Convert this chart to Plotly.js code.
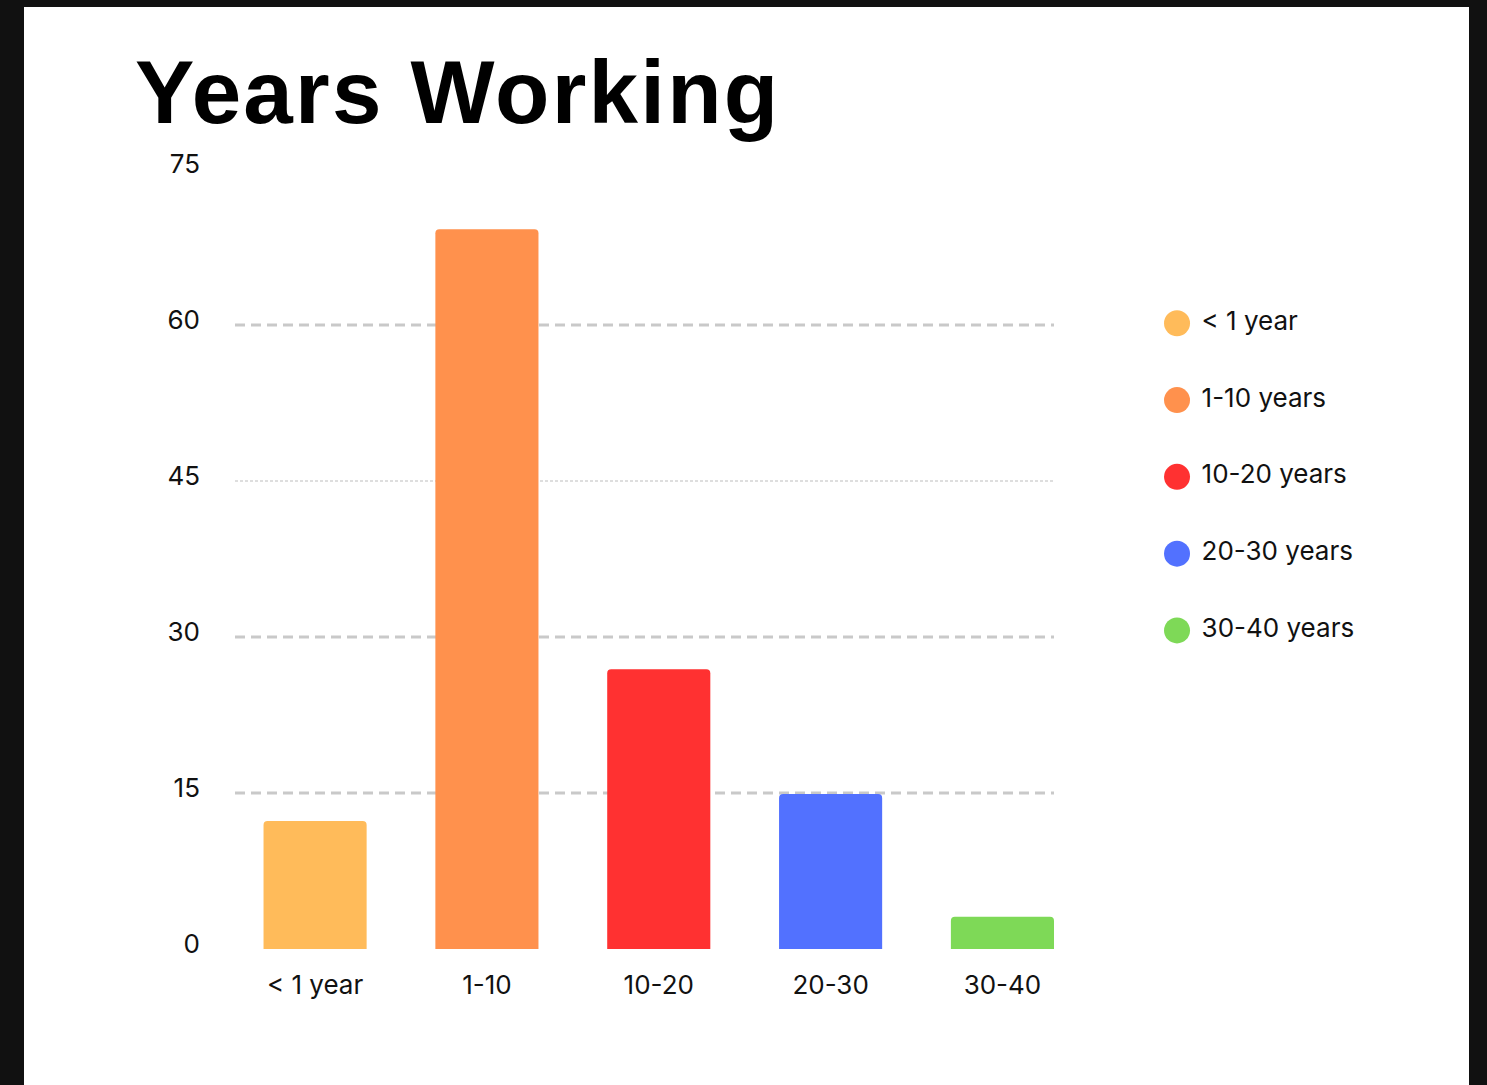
<!DOCTYPE html>
<html>
<head>
<meta charset="utf-8">
<script src="https://cdn.plot.ly/plotly-3.0.1.min.js"></script>
<style>
  html, body { margin: 0; padding: 0; background: #111111; width: 1487px; height: 1085px; overflow: hidden; }
  #chart { position: absolute; left: 24px; top: 7px; width: 1445px; height: 1078px; background: #ffffff; }
  #chart .gtitle { letter-spacing: 2.2px; }
</style>
</head>
<body>
<div id="chart"></div>
<script>
// ---- data ----
const categories = ["< 1 year", "1-10", "10-20", "20-30", "30-40"];
const values = [12.3, 69.2, 26.9, 14.9, 3.1];
const legendLabels = ["< 1 year", "1-10 years", "10-20 years", "20-30 years", "30-40 years"];
const colors = ["#FFBB5A", "#FF914D", "#FF3131", "#5271FF", "#7ED957"];
const yTicks = [0, 15, 30, 45, 60, 75];
const dashedGrid = [15, 30, 60];
const dottedGrid = [45];

const font = "Inter, 'Noto Sans', sans-serif";

const bars = {
  type: "bar",
  x: categories,
  y: values,
  marker: { color: colors, cornerradius: 4 },
  width: 0.6,
  hoverinfo: "skip",
  showlegend: false,
  xaxis: "x", yaxis: "y"
};

const legendPts = {
  type: "scatter",
  mode: "markers+text",
  x: legendLabels.map(() => 0),
  y: legendLabels,
  text: legendLabels,
  texttemplate: "\u00A0%{text}",
  textposition: "middle right",
  textfont: { family: font, size: 26, color: "#111111" },
  marker: { size: 26, color: colors },
  hoverinfo: "skip",
  showlegend: false,
  cliponaxis: false,
  xaxis: "x2", yaxis: "y2"
};

const shapes = [];
dashedGrid.forEach(v => shapes.push({
  type: "line", xref: "x domain", yref: "y", x0: 0, x1: 1, y0: v, y1: v,
  layer: "below", line: { color: "#c9c9c9", width: 3, dash: "10px,6px" }
}));
dottedGrid.forEach(v => shapes.push({
  type: "line", xref: "x domain", yref: "y", x0: 0, x1: 1, y0: v, y1: v,
  layer: "below", line: { color: "#bdbdbd", width: 1, dash: "3px,2px" }
}));

const W = 1445, H = 1078;
const layout = {
  width: W, height: H,
  paper_bgcolor: "#ffffff",
  plot_bgcolor: "rgba(0,0,0,0)",
  margin: { l: 211, r: 45, t: 162, b: 136 },
  showlegend: false,
  title: {
    text: "<b>Years Working</b>",
    font: { family: "'Liberation Sans', Arial, sans-serif", size: 89, color: "#000000" },
    xref: "container", yref: "container",
    x: 111 / W, xanchor: "left",
    y: 1 - 85 / H, yanchor: "middle"
  },
  xaxis: {
    domain: [0, 819 / 1189],
    type: "category",
    range: [-0.466, 4.30],
    showgrid: false, zeroline: false, showline: false,
    ticks: "",
    ticklabelstandoff: 18,
    tickfont: { family: font, size: 26, color: "#111111" },
    fixedrange: true
  },
  yaxis: {
    range: [0, 75],
    tickvals: yTicks,
    ticktext: yTicks.map(String),
    showgrid: false, zeroline: false, showline: false,
    ticks: "",
    ticklabelstandoff: 34,
    ticklabelshift: -5,
    tickfont: { family: font, size: 26, color: "#111111" },
    fixedrange: true
  },
  xaxis2: {
    domain: [0.76, 1],
    range: [-0.1345, 0.8655],
    visible: false, fixedrange: true
  },
  yaxis2: {
    anchor: "x2",
    type: "category",
    range: [8.15, -2.01],
    visible: false, fixedrange: true
  },
  shapes: shapes,
  bargap: 0.4
};

Plotly.newPlot("chart", [bars, legendPts], layout, { displayModeBar: false, staticPlot: true });
</script>
</body>
</html>
